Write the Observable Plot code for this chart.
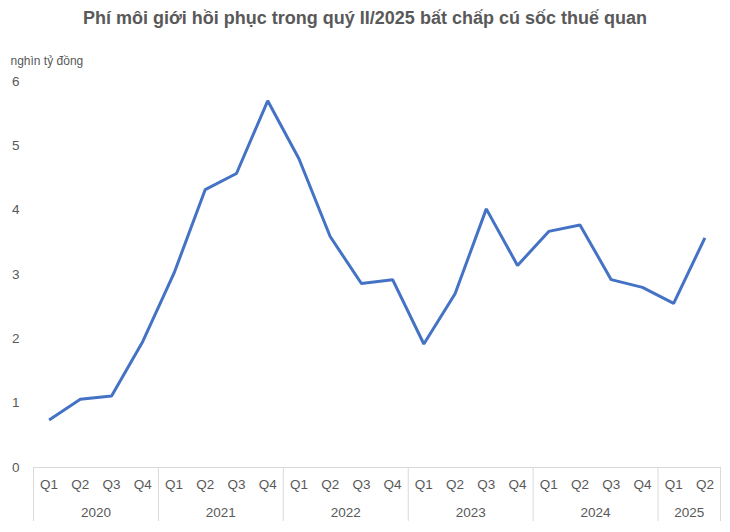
<!DOCTYPE html>
<html>
<head>
<meta charset="utf-8">
<script src="https://cdn.jsdelivr.net/npm/d3@7"></script>
<script src="https://cdn.jsdelivr.net/npm/@observablehq/plot@0.6"></script>
<style>
  html, body { margin: 0; padding: 0; background: #fff; }
  body { width: 730px; height: 532px; overflow: hidden; font-family: "Liberation Sans", Arial, Helvetica, sans-serif; }
  #title { height: 36px; line-height: 36px; text-align: center; font-weight: bold; font-size: 18px; color: #595959; }
</style>
</head>
<body>
<div id="title">Phí môi giới hồi phục trong quý II/2025 bất chấp cú sốc thuế quan</div>
<div id="chart"></div>
<script>
const quarters = ["Q1","Q2","Q3","Q4","Q1","Q2","Q3","Q4","Q1","Q2","Q3","Q4","Q1","Q2","Q3","Q4","Q1","Q2","Q3","Q4","Q1","Q2"];
const years = ["2020","2020","2020","2020","2021","2021","2021","2021","2022","2022","2022","2022","2023","2023","2023","2023","2024","2024","2024","2024","2025","2025"];
const values = [0.74, 1.06, 1.11, 1.96, 3.02, 4.32, 4.57, 5.70, 4.80, 3.59, 2.86, 2.92, 1.92, 2.70, 4.02, 3.14, 3.67, 3.77, 2.92, 2.80, 2.55, 3.57];
const yTicks = [0, 1, 2, 3, 4, 5, 6];
const unitLabel = "nghìn tỷ đồng";

const rows = values.map((v, i) => ({i, q: quarters[i], year: years[i], value: v}));
const yearGroups = d3.groups(rows, d => d.year).map(([year, rs]) => ({
  year,
  center: d3.mean(rs, d => d.i),
  start: d3.min(rs, d => d.i) - 0.5,
  end: d3.max(rs, d => d.i) + 0.5
}));
const separators = Array.from(new Set(yearGroups.flatMap(g => [g.start, g.end])));

const textColor = "#595959";
const chart = Plot.plot({
  width: 730,
  height: 496,
  marginLeft: 33,
  marginRight: 10,
  marginTop: 45,
  marginBottom: 65,
  style: {fontFamily: "'Liberation Sans', Arial, Helvetica, sans-serif", fontSize: "13px", color: textColor, background: "#fff"},
  x: {domain: [-0.5, values.length - 0.5], axis: null},
  y: {domain: [0, 6], axis: null},
  marks: [
    Plot.ruleY([0], {stroke: "#d9d9d9", strokeWidth: 1}),
    Plot.ruleX(separators, {x: d => d, y1: 0, stroke: "#d9d9d9", strokeWidth: 1, insetBottom: -54}),
    Plot.axisY(yTicks, {tickSize: 0, tickPadding: 14, tickFormat: d => String(d), fontSize: 13.5, fill: textColor, label: null}),
    Plot.text([unitLabel], {frameAnchor: "top-left", dx: -23, dy: -25, textAnchor: "start", fontSize: 12, fill: textColor}),
    Plot.text(rows, {x: "i", y: 0, text: "q", dy: 17, fontSize: 13.5, fill: textColor}),
    Plot.text(yearGroups, {x: "center", y: 0, text: "year", dy: 45, fontSize: 13.5, fill: textColor}),
    Plot.line(rows, {x: "i", y: "value", stroke: "#4472C4", strokeWidth: 3, strokeLinejoin: "miter", strokeLinecap: "butt"})
  ]
});
document.getElementById("chart").appendChild(chart);
</script>
</body>
</html>
